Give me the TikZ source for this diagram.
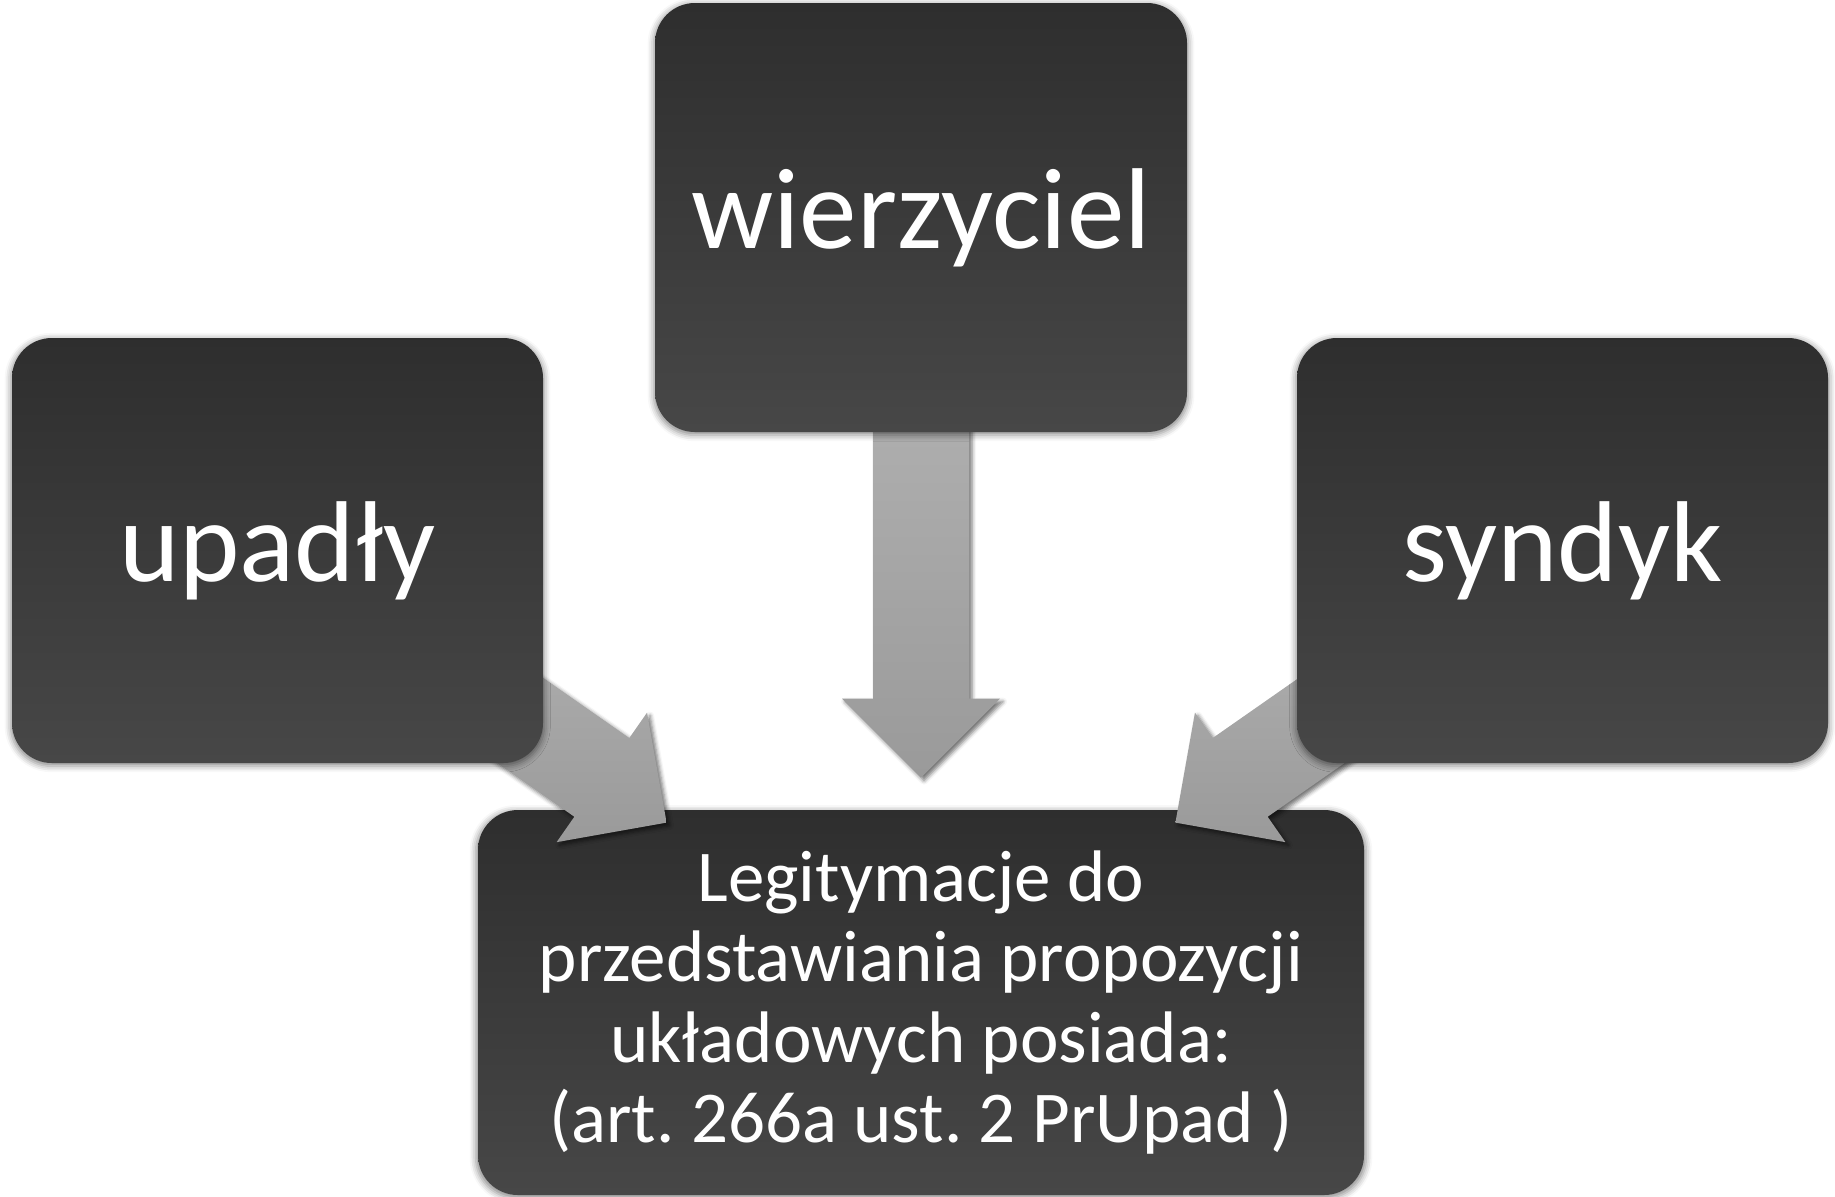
\documentclass[tikz,border=0pt]{standalone}
\usepackage{fontspec}
\setmainfont{Carlito}
\frenchspacing
\usetikzlibrary{calc,shadows.blur}
\definecolor{boxtop}{HTML}{2E2E2E}
\definecolor{boxbot}{HTML}{474747}
\definecolor{arrtop}{HTML}{AEAEAE}
\definecolor{arrbot}{HTML}{9A9A9A}
\tikzset{
  box/.style={rectangle, rounded corners=20pt, inner sep=0pt, draw=none,
    top color=boxtop, bottom color=boxbot, text=white, align=center,
    blur shadow={shadow xshift=0pt, shadow yshift=-1pt, shadow blur radius=3pt,
      shadow opacity=45, shadow scale=1.005}},
  bigtext/.style={font=\fontsize{57.5}{69}\selectfont},
  smalltext/.style={font=\fontsize{36.5}{40.3}\selectfont},
  blockarr/.style={top color=arrtop, bottom color=arrbot, draw=none,
    blur shadow={shadow xshift=1.5pt, shadow yshift=-1.5pt, shadow blur radius=2pt,
      shadow opacity=55}},
}
\newcommand\blockarrow[2]{%
  \coordinate (#1b) at ($(#2)!39.5pt!(#1)$);
  \path[blockarr] ($(#1)!24pt!90:(#2)$) -- ($(#1b)!24pt!90:(#2)$)
    -- ($(#1b)!39.5pt!90:(#2)$) -- (#2) -- ($(#1b)!39.5pt!-90:(#2)$)
    -- ($(#1b)!24pt!-90:(#2)$) -- ($(#1)!24pt!-90:(#2)$) -- cycle;
}
\begin{document}
\begin{tikzpicture}[x=0.5pt,y=-0.5pt]
  \useasboundingbox (0,0) rectangle (1835,1196);
  % bottom box (drawn first, beneath the arrows)
  \node[box, smalltext, minimum width=443pt, minimum height=192.5pt] (bot) at (921,1002.5)
    {Legitymacje do\\przedstawiania propozycji\\układowych posiada:\\(art. 266a ust. 2 PrUpad )};
  % connector end points (start points lie inside the source boxes)
  \coordinate (sU) at (921,420);
  \coordinate (sL) at (438,663);
  \coordinate (sR) at (1404,663);
  \coordinate (tU) at ($(bot.north)+(0,-32)$);
  \coordinate (tL) at ($(bot.north west)+(189,13)$);
  \coordinate (tR) at ($(bot.north east)+(-189,13)$);
  % connectors
  \blockarrow{sU}{tU}
  \blockarrow{sL}{tL}
  \blockarrow{sR}{tR}
  % top boxes
  \node[box, bigtext, minimum width=266pt, minimum height=214.5pt] (up) at (921,217.5) {\raisebox{-2pt}{wierzyciel}};
  \node[box, bigtext, minimum width=265.5pt, minimum height=212.5pt] (left) at (277.5,550.5) {\raisebox{-2.5pt}{upadły}};
  \node[box, bigtext, minimum width=265.5pt, minimum height=212.5pt] (right) at (1562.5,550.5) {\raisebox{-2.5pt}{syndyk}};
\end{tikzpicture}
\end{document}
